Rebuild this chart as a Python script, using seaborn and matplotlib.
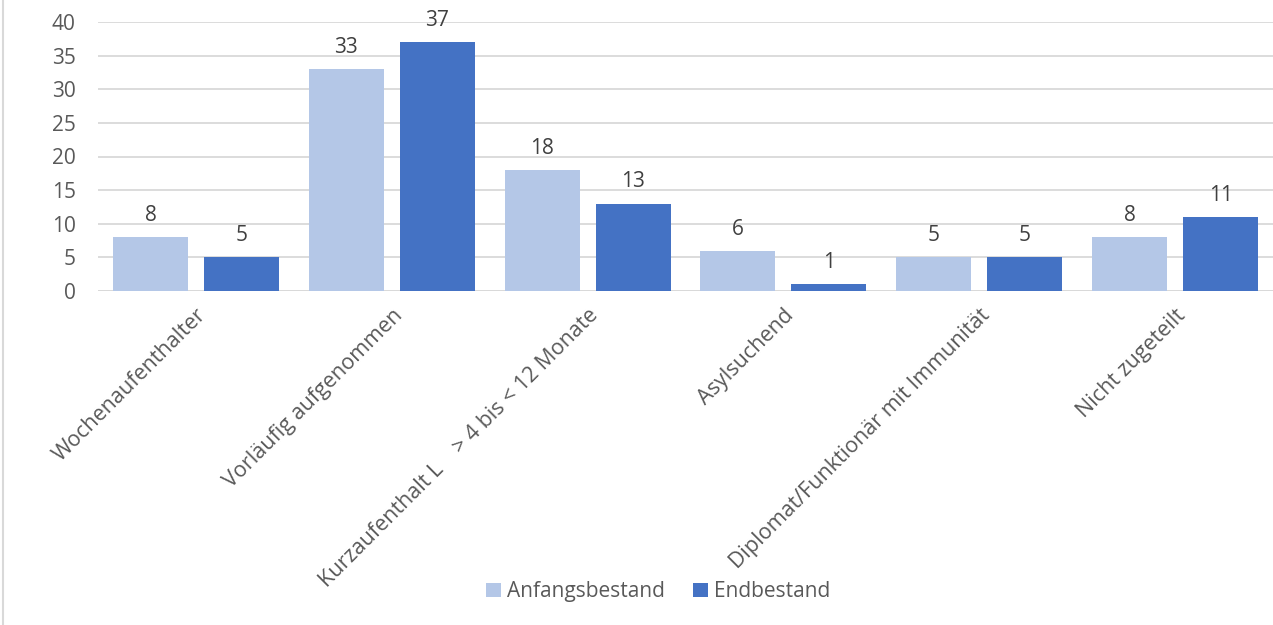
import matplotlib
matplotlib.use("Agg")
import matplotlib.pyplot as plt
import seaborn as sns
import pandas as pd
from matplotlib.lines import Line2D

# data
categories = [
    "Wochenaufenthalter",
    "Vorläufig aufgenommen",
    "Kurzaufenthalt L    > 4 bis < 12 Monate",
    "Asylsuchend",
    "Diplomat/Funktionär mit Immunität",
    "Nicht zugeteilt",
]
anfang = [8, 33, 18, 6, 5, 8]
ende = [5, 37, 13, 1, 5, 11]
series = ["Anfangsbestand", "Endbestand"]
colors = ["#B4C7E7", "#4472C4"]

df = pd.DataFrame({
    "Kategorie": categories * 2,
    "Wert": anfang + ende,
    "Serie": [series[0]] * len(categories) + [series[1]] * len(categories),
})

sns.set_style("white")
plt.rcParams["font.family"] = ["Open Sans", "DejaVu Sans"]
text_col = "#595959"

fig = plt.figure(figsize=(12.73, 6.25), dpi=100)
ax = fig.add_axes([0.077, 0.5344, 0.923, 0.4304])

sns.barplot(data=df, x="Kategorie", y="Wert", hue="Serie", palette=colors,
            saturation=1, width=0.929, gap=0.176, linewidth=0, ax=ax,
            legend=True)

ax.set_ylim(0, 40)
ax.set_yticks(range(0, 41, 5))
ax.yaxis.grid(True, color="#D9D9D9", linewidth=1.3)
ax.set_axisbelow(True)
for s in ax.spines.values():
    s.set_visible(False)
ax.axhline(0, color="#D9D9D9", linewidth=1.3, zorder=0)
ax.set_xlabel("")
ax.set_ylabel("")
ax.tick_params(axis="y", length=0, labelsize=15, labelcolor=text_col, pad=16)
ax.tick_params(axis="x", length=0, labelsize=15.5, labelcolor=text_col, pad=10)
plt.setp(ax.get_xticklabels(), rotation=45, ha="right", rotation_mode="anchor")

for cont in ax.containers:
    ax.bar_label(cont, fmt="%d", padding=8, fontsize=15, color="#404040")

handles, labels = ax.get_legend_handles_labels()
ax.legend_.remove()
fig.legend(handles, labels, loc="center", bbox_to_anchor=(0.517, 0.053),
           ncol=2, frameon=False, fontsize=15, labelcolor=text_col,
           handlelength=0.7, handleheight=0.7, handletextpad=0.3,
           columnspacing=1.35)

fig.add_artist(Line2D([0.0024, 0.0024], [0, 1], color="#D9D9D9",
                      linewidth=1.5, transform=fig.transFigure))

fig.savefig("out.png", dpi=100)
